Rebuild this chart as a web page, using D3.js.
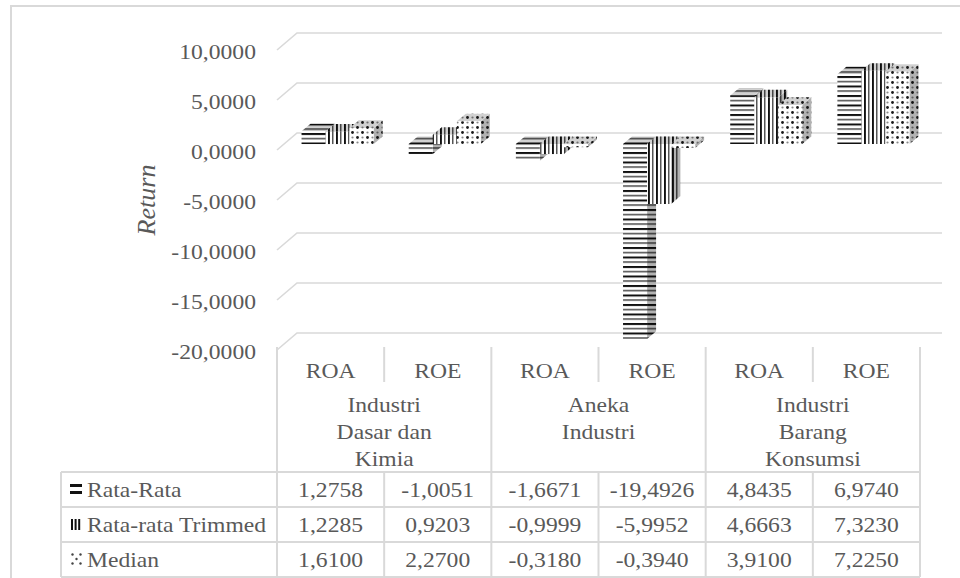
<!DOCTYPE html>
<html>
<head>
<meta charset="utf-8">
<script src="https://cdn.jsdelivr.net/npm/d3@7"></script>
<style>
  html, body { margin: 0; padding: 0; background: #ffffff; }
  svg { display: block; }
</style>
</head>
<body>
<script>
// ---- data ----
const metrics = ["ROA", "ROE", "ROA", "ROE", "ROA", "ROE"];
const sectors = [
  ["Industri", "Dasar dan", "Kimia"],
  ["Aneka", "Industri"],
  ["Industri", "Barang", "Konsumsi"]
];
const seriesNames = ["Rata-Rata", "Rata-rata Trimmed", "Median"];
const rataRata = [1.2758, -1.0051, -1.6671, -19.4926, 4.8435, 6.9740];
const rataTrimmed = [1.2285, 0.9203, -0.9999, -5.9952, 4.6663, 7.3230];
const median = [1.6100, 2.2700, -0.3180, -0.3940, 3.9100, 7.2250];
const tickValues = [-20, -15, -10, -5, 0, 5, 10];

const seriesValues = [rataRata, rataTrimmed, median];

// ---- setup ----
const W = 960, H = 578;
const GRID = "#d9d9d9", TXT = "#595959";
const FONT = "'Liberation Serif', 'Times New Roman', serif";
const FS = 21, SX = 1.125;

const locale = d3.formatLocale({ decimal: ",", thousands: ".", grouping: [3], currency: ["", ""], minus: "-" });
const fmt = locale.format(".4f");

const svg = d3.select("body").append("svg").attr("width", W).attr("height", H);

// fill patterns for the three series
const defs = svg.append("defs");
const pH = defs.append("pattern").attr("id", "pH").attr("patternUnits", "userSpaceOnUse")
  .attr("width", 10).attr("height", 9.5);
pH.append("rect").attr("width", 10).attr("height", 9.5).attr("fill", "#fff");
pH.append("rect").attr("y", 0).attr("width", 10).attr("height", 2).attr("fill", "#111");
pH.append("rect").attr("y", 4.75).attr("width", 10).attr("height", 1.6).attr("fill", "#555");

const pV = defs.append("pattern").attr("id", "pV").attr("patternUnits", "userSpaceOnUse")
  .attr("width", 8).attr("height", 10);
pV.append("rect").attr("width", 8).attr("height", 10).attr("fill", "#fff");
pV.append("rect").attr("x", 0).attr("width", 1.9).attr("height", 10).attr("fill", "#111");
pV.append("rect").attr("x", 4).attr("width", 1.5).attr("height", 10).attr("fill", "#555");

const pD = defs.append("pattern").attr("id", "pD").attr("patternUnits", "userSpaceOnUse")
  .attr("width", 10).attr("height", 10);
pD.append("rect").attr("width", 10).attr("height", 10).attr("fill", "#fff");
[[2.5, 2.5, "#1a1a1a", 1.4], [7.5, 7.5, "#1a1a1a", 1.4], [7.5, 2.5, "#888", 1.1], [2.5, 7.5, "#888", 1.1]]
  .forEach(([cx, cy, c, r]) => pD.append("circle").attr("cx", cx).attr("cy", cy).attr("r", r).attr("fill", c));

const fills = ["url(#pH)", "url(#pV)", "url(#pD)"];

// helper for horizontally stretched text
function label(g, x, yy, str, anchor, size) {
  return g.append("text")
    .attr("transform", `translate(${x},${yy}) scale(${SX},1)`)
    .attr("text-anchor", anchor || "middle")
    .attr("font-family", FONT)
    .attr("font-size", size || FS)
    .attr("fill", TXT)
    .text(str);
}

// outer frame
svg.append("path").attr("d", "M11,578 L11,6 L960,6")
  .attr("fill", "none").attr("stroke", GRID).attr("stroke-width", 2);

// ---- scales ----
const DX = 20, DY = 17;                 // depth offset (front floor -> back wall)
const y = d3.scaleLinear().domain([-20, 10]).range([333, 33]);  // back wall
const x = d3.scaleBand().domain(d3.range(metrics.length)).range([277, 920]).padding(0);
const xs = d3.scaleBand().domain(d3.range(seriesValues.length)).range([0, x.bandwidth()])
  .paddingInner(0).paddingOuter(0.73);
const D0 = 0.35, D1 = 0.8;              // bar depth span
const proj = (xf, v, d) => [xf + DX * d, y(v) + DY * (1 - d)];

// ---- gridlines on back wall + side diagonal ----
const grid = svg.append("g");
tickValues.forEach(t => {
  const yb = y(t);
  grid.append("path")
    .attr("d", `M${x.range()[0]},${yb + DY} L${x.range()[0] + DX},${yb} L${x.range()[1] + DX + 2},${yb}`)
    .attr("fill", "none").attr("stroke", GRID).attr("stroke-width", 1.6);
});

// y tick labels
const yAxisG = svg.append("g");
tickValues.forEach(t => {
  label(yAxisG, 256, y(t) + DY + 8.5, fmt(t), "end");
});

// y title
svg.append("text")
  .attr("transform", `translate(155,200) rotate(-90)`)
  .attr("text-anchor", "middle")
  .attr("font-family", FONT).attr("font-style", "italic")
  .attr("font-size", 26).attr("fill", TXT)
  .text("Return");

// ---- bars (3D columns) ----
const bars = svg.append("g");
const poly = pts => "M" + pts.map(p => p.join(",")).join("L") + "Z";
metrics.forEach((m, i) => {
  seriesValues.forEach((vals, s) => {
    const v = vals[i];
    const xf0 = x(i) + xs(s), xf1 = xf0 + xs.bandwidth();
    const topV = Math.max(v, 0), botV = Math.min(v, 0);
    const g = bars.append("g");
    const side = [proj(xf1, topV, D0), proj(xf1, topV, D1), proj(xf1, botV, D1), proj(xf1, botV, D0)];
    const top = [proj(xf0, topV, D0), proj(xf1, topV, D0), proj(xf1, topV, D1), proj(xf0, topV, D1)];
    const front = [proj(xf0, topV, D0), proj(xf1, topV, D0), proj(xf1, botV, D0), proj(xf0, botV, D0)];
    g.append("path").attr("d", poly(side)).attr("fill", fills[s]);
    g.append("path").attr("d", poly(side)).attr("fill", "#000").attr("fill-opacity", 0.3);
    g.append("path").attr("d", poly(top)).attr("fill", fills[s]);
    g.append("path").attr("d", poly(top)).attr("fill", "#000").attr("fill-opacity", 0.18);
    g.append("path").attr("d", poly(front)).attr("fill", fills[s]);
  });
});

// ---- data table ----
const tbl = svg.append("g");
const x0 = x.range()[0], x1 = x.range()[1];
const headTop = 347, rowTop = 472, rowH = 35, nRows = seriesNames.length;
const legendLeft = 61;
const line = (xa, ya, xb, yb) => tbl.append("line")
  .attr("x1", xa).attr("y1", ya).attr("x2", xb).attr("y2", yb)
  .attr("stroke", GRID).attr("stroke-width", 2);

// horizontal rules
for (let r = 0; r <= nRows; r++) line(legendLeft, rowTop + r * rowH, x1, rowTop + r * rowH);
// vertical rules
line(legendLeft, rowTop, legendLeft, rowTop + nRows * rowH);
metrics.forEach((m, i) => {
  if (i % 2 === 0) {
    line(x(i), headTop, x(i), rowTop + nRows * rowH);
  } else {
    line(x(i), headTop, x(i), 382);
    line(x(i), rowTop, x(i), rowTop + nRows * rowH);
  }
});
line(x1, headTop, x1, rowTop + nRows * rowH);

// header: metric labels
metrics.forEach((m, i) => label(tbl, x(i) + x.bandwidth() / 2, 378, m));
// header: sector labels
sectors.forEach((lines, k) => {
  const cx = x(2 * k + 1);
  lines.forEach((t, j) => label(tbl, cx, 412 + j * 27, t));
});

// rows
seriesValues.forEach((vals, s) => {
  const base = rowTop + s * rowH + 24.5;
  label(tbl, 87, base, seriesNames[s], "start");
  vals.forEach((v, i) => label(tbl, x(i) + x.bandwidth() / 2, base, fmt(v)));
});

// legend keys
const keys = svg.append("g");
const k0 = rowTop + 12;
keys.append("rect").attr("x", 70).attr("y", k0).attr("width", 12).attr("height", 3).attr("fill", "#111");
keys.append("rect").attr("x", 70).attr("y", k0 + 7).attr("width", 12).attr("height", 3).attr("fill", "#111");
const k1 = rowTop + rowH + 12;
[0, 1, 2].forEach(j => keys.append("rect").attr("x", 71 + j * 3.6).attr("y", k1).attr("width", 2).attr("height", 11).attr("fill", "#111"));
const k2 = rowTop + 2 * rowH + 12;
[[72.5, 0.5], [80.5, 0.5], [76.5, 5], [72.5, 9.5], [80.5, 9.5]].forEach(([cx, dy]) =>
  keys.append("circle").attr("cx", cx).attr("cy", k2 + dy).attr("r", 1.2).attr("fill", "#444"));
</script>
</body>
</html>
